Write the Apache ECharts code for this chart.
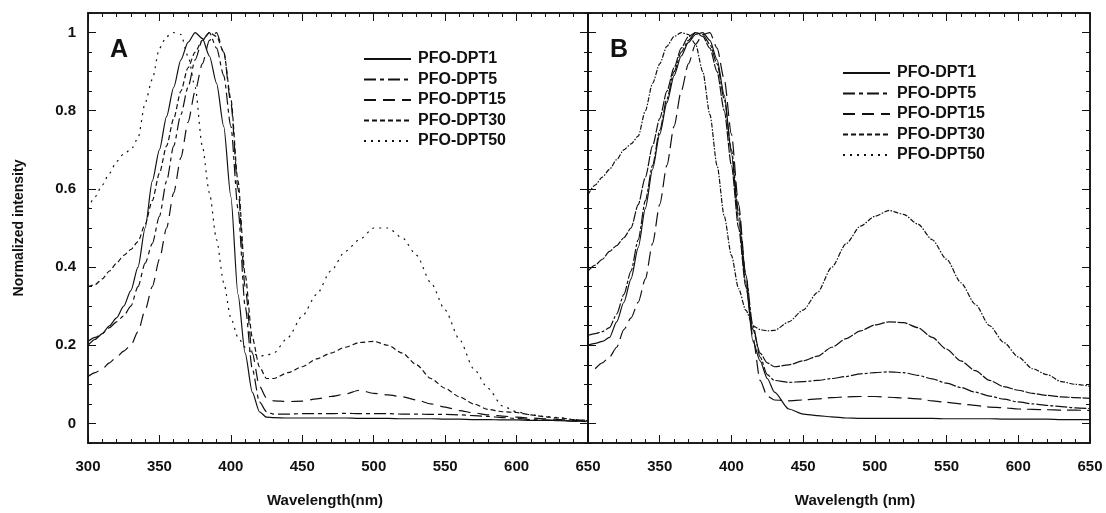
<!DOCTYPE html>
<html>
<head>
<meta charset="UTF-8" />
<title>PFO-DPT normalized spectra</title>
<style>
  html, body { margin: 0; padding: 0; background: #fff; }
  #chart { width: 1106px; height: 513px; }
</style>
</head>
<body>
<div id="chart"></div>
<script src="https://cdn.jsdelivr.net/npm/echarts@6/dist/echarts.min.js"></script>
<script>
// wavelength grid (nm), shared by every curve
const nm = [300,305,310,315,320,325,330,335,340,345,350,355,360,365,370,375,380,385,390,395,400,405,410,415,420,425,430,440,450,460,470,480,490,500,510,520,530,540,550,560,570,580,590,600,610,620,630,640,650];

const names = ['PFO-DPT1', 'PFO-DPT5', 'PFO-DPT15', 'PFO-DPT30', 'PFO-DPT50'];

// panel A
const a1  = [0.20,0.215,0.23,0.25,0.27,0.30,0.34,0.40,0.50,0.62,0.70,0.785,0.86,0.93,0.975,1.0,0.985,0.94,0.87,0.76,0.58,0.33,0.18,0.08,0.03,0.016,0.015,0.014,0.014,0.014,0.014,0.014,0.013,0.013,0.013,0.012,0.012,0.012,0.011,0.011,0.01,0.01,0.009,0.009,0.008,0.008,0.007,0.006,0.006];
const a5  = [0.21,0.22,0.23,0.245,0.26,0.275,0.30,0.35,0.41,0.46,0.53,0.62,0.71,0.79,0.86,0.93,0.98,1.0,0.96,0.89,0.76,0.55,0.30,0.14,0.055,0.03,0.024,0.024,0.025,0.025,0.025,0.026,0.025,0.025,0.025,0.024,0.024,0.023,0.023,0.022,0.02,0.018,0.015,0.013,0.01,0.009,0.008,0.006,0.004];
const a15 = [0.12,0.13,0.14,0.155,0.17,0.185,0.20,0.235,0.29,0.35,0.42,0.50,0.59,0.68,0.77,0.85,0.92,0.98,1.0,0.95,0.82,0.60,0.35,0.18,0.095,0.065,0.058,0.056,0.057,0.063,0.069,0.075,0.085,0.077,0.073,0.068,0.06,0.05,0.042,0.033,0.027,0.022,0.019,0.016,0.014,0.012,0.01,0.008,0.005];
const a30 = [0.35,0.355,0.37,0.39,0.41,0.43,0.445,0.465,0.51,0.57,0.64,0.71,0.78,0.85,0.91,0.95,0.98,1.0,0.99,0.95,0.83,0.62,0.38,0.22,0.145,0.115,0.115,0.13,0.145,0.165,0.18,0.195,0.207,0.21,0.20,0.18,0.15,0.115,0.09,0.068,0.05,0.036,0.03,0.028,0.022,0.017,0.014,0.01,0.007];
const a50 = [0.55,0.58,0.61,0.64,0.67,0.69,0.70,0.73,0.82,0.88,0.96,0.99,1.0,0.995,0.94,0.86,0.71,0.59,0.47,0.36,0.27,0.22,0.195,0.18,0.172,0.175,0.18,0.22,0.275,0.33,0.39,0.44,0.47,0.50,0.50,0.475,0.43,0.36,0.29,0.215,0.14,0.09,0.045,0.03,0.022,0.018,0.015,0.01,0.008];

// panel B
const b1  = [0.20,0.205,0.21,0.22,0.26,0.31,0.37,0.45,0.55,0.65,0.74,0.82,0.89,0.94,0.975,0.995,1.0,0.98,0.93,0.84,0.69,0.52,0.36,0.21,0.16,0.115,0.08,0.037,0.024,0.02,0.017,0.014,0.013,0.013,0.013,0.013,0.013,0.013,0.012,0.012,0.012,0.012,0.011,0.011,0.011,0.011,0.01,0.01,0.01];
const b5  = [0.225,0.23,0.235,0.245,0.28,0.33,0.39,0.47,0.57,0.66,0.75,0.83,0.90,0.95,0.98,1.0,0.995,0.97,0.92,0.83,0.70,0.54,0.38,0.25,0.17,0.125,0.11,0.105,0.107,0.11,0.115,0.12,0.127,0.13,0.132,0.13,0.123,0.114,0.103,0.092,0.08,0.07,0.062,0.055,0.05,0.046,0.043,0.04,0.038];
const b15 = [null,0.14,0.155,0.17,0.195,0.24,0.27,0.31,0.37,0.46,0.56,0.66,0.76,0.85,0.92,0.97,0.995,1.0,0.96,0.88,0.74,0.56,0.38,0.22,0.11,0.07,0.06,0.058,0.06,0.063,0.066,0.068,0.069,0.069,0.067,0.065,0.063,0.058,0.054,0.05,0.046,0.042,0.04,0.037,0.036,0.035,0.034,0.034,0.033];
const b30 = [0.39,0.405,0.42,0.44,0.455,0.475,0.50,0.56,0.63,0.71,0.78,0.85,0.91,0.96,0.99,1.0,0.99,0.96,0.90,0.80,0.66,0.50,0.35,0.24,0.18,0.155,0.145,0.15,0.16,0.172,0.195,0.217,0.237,0.252,0.26,0.258,0.245,0.22,0.19,0.16,0.135,0.11,0.094,0.085,0.077,0.072,0.068,0.066,0.064];
const b50 = [0.585,0.61,0.63,0.65,0.675,0.70,0.715,0.735,0.80,0.87,0.92,0.965,0.99,1.0,0.995,0.97,0.90,0.79,0.66,0.53,0.43,0.345,0.29,0.25,0.24,0.237,0.238,0.26,0.29,0.335,0.40,0.46,0.505,0.53,0.545,0.535,0.51,0.47,0.42,0.36,0.305,0.25,0.207,0.17,0.14,0.125,0.107,0.10,0.095];

// tick positions on the intensity axis
const yMajor = [0, 0.2, 0.4, 0.6, 0.8, 1];
const yMinor = [-0.05,0,0.05,0.1,0.15,0.2,0.25,0.3,0.35,0.4,0.45,0.5,0.55,0.6,0.65,0.7,0.75,0.8,0.85,0.9,0.95,1,1.05];

const FONT = "'Liberation Sans', Arial, sans-serif";
const INK = '#111';

const dashA = ['solid', [12, 4, 4, 4], [12, 7], [5, 3], [2, 5]];
const dashB = ['solid', [12, 2, 3, 2], [14, 6], [10, 1.5], [5, 1.5, 1.5, 1.5]];

function xAxes(g, title, hideMin, namePad) {
  const base = {
    gridIndex: g, type: 'value', min: 300, max: 650, interval: 50,
    axisLine: { onZero: false, lineStyle: { color: INK, width: 1.5 } },
    axisTick: { inside: true, length: 8, lineStyle: { color: INK } },
    minorTick: { show: true, splitNumber: 5, length: 4, lineStyle: { color: INK } },
    splitLine: { show: false }
  };
  return [
    Object.assign({}, base, {
      position: 'bottom',
      axisLabel: { margin: 16, fontSize: 15, fontWeight: 'bold', fontFamily: FONT, color: INK, showMinLabel: !hideMin },
      name: title, nameLocation: 'middle', nameGap: 50,
      nameTextStyle: { fontSize: 15, fontWeight: 'bold', fontFamily: FONT, color: INK, padding: namePad }
    }),
    Object.assign({}, base, { position: 'top', axisLabel: { show: false } })
  ];
}

function yAxes(g, withLabels) {
  const base = {
    gridIndex: g, type: 'value', min: -0.05, max: 1.05,
    splitLine: { show: false }
  };
  const major = (pos, labels) => Object.assign({}, base, {
    position: pos,
    axisLine: { show: true, onZero: false, lineStyle: { color: INK, width: 1.5 } },
    axisTick: { show: true, inside: true, length: 8, customValues: yMajor, lineStyle: { color: INK } },
    axisLabel: labels
      ? { show: true, customValues: yMajor, margin: 12, fontSize: 15, fontWeight: 'bold', fontFamily: FONT, color: INK }
      : { show: false },
    name: labels ? 'Normalized intensity' : '',
    nameLocation: 'middle', nameGap: 62,
    nameTextStyle: { fontSize: 14, fontWeight: 'bold', fontFamily: FONT, color: INK }
  });
  const minor = (pos) => Object.assign({}, base, {
    position: pos,
    axisLine: { show: false },
    axisTick: { show: true, inside: true, length: 4, customValues: yMinor, lineStyle: { color: INK } },
    axisLabel: { show: false }
  });
  return [major('left', withLabels), minor('left'), major('right', false), minor('right')];
}

function makeSeries(arrs, dashes, xi, yi) {
  return arrs.map((arr, k) => ({
    name: names[k],
    type: 'line',
    xAxisIndex: xi, yAxisIndex: yi,
    symbol: 'none',
    smooth: 0.25,
    smoothMonotone: 'x',
    itemStyle: { color: INK },
    lineStyle: { color: INK, width: 1.2, type: dashes[k] },
    data: nm.map((x, i) => [x, arr[i]])
  }));
}

function legend(left, top) {
  return {
    data: names, orient: 'vertical', left: left, top: top, padding: 0,
    itemWidth: 47, itemHeight: 14, itemGap: 4.5, selectedMode: false,
    itemStyle: { opacity: 0 },
    textStyle: { fontSize: 16, fontWeight: 'bold', fontFamily: FONT, color: INK, padding: [0, 0, 0, 2] }
  };
}

const chart = echarts.init(document.getElementById('chart'), null, { renderer: 'canvas' });
chart.setOption({
  animation: false,
  backgroundColor: '#fff',
  grid: [
    { left: 88, top: 13, width: 500, height: 431, show: true, borderColor: INK, borderWidth: 1.5 },
    { left: 588, top: 13, width: 502, height: 431, show: true, borderColor: INK, borderWidth: 1.5 }
  ],
  xAxis: [].concat(
    xAxes(0, 'Wavelength(nm)', false, [0, 26, 0, 0]),
    xAxes(1, 'Wavelength (nm)', true, [0, 0, 0, 32])
  ),
  yAxis: [].concat(yAxes(0, true), yAxes(1, false)),
  legend: [legend(363, 51), legend(842, 65)],
  graphic: [
    { type: 'text', left: 110, top: 38, style: { text: 'A', font: '900 25px Liberation Sans, Arial, sans-serif', fill: INK } },
    { type: 'text', left: 610, top: 38, style: { text: 'B', font: '900 25px Liberation Sans, Arial, sans-serif', fill: INK } }
  ],
  series: [].concat(
    makeSeries([a1, a5, a15, a30, a50], dashA, 0, 0),
    makeSeries([b1, b5, b15, b30, b50], dashB, 2, 4)
  )
});
</script>
</body>
</html>
